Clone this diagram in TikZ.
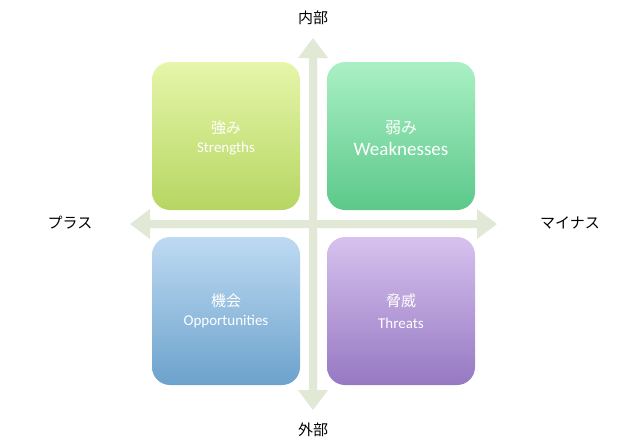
\documentclass[tikz,border=0pt]{standalone}
\usepackage{fontspec}
\setmainfont{Carlito}
\newfontfamily\cjk{Noto Sans CJK JP}
\begin{document}
\begin{tikzpicture}[x=1pt,y=-1pt]
\definecolor{arr}{HTML}{E2E8D6}
\tikzset{quad/.style={rounded corners=18pt,draw=none},
 wtxt/.style={text=white,align=center,font=\fontsize{15}{19}\selectfont},
 lbl/.style={text=black,font=\cjk\fontsize{15}{18}\selectfont}}
\useasboundingbox (0,0) rectangle (640,445);
% boxes
\shade[quad,top color={rgb,255:red,230;green,246;blue,170},bottom color={rgb,255:red,182;green,214;blue,98}] (152,62) rectangle (300,210);
\shade[quad,top color={rgb,255:red,170;green,240;blue,196},bottom color={rgb,255:red,92;green,200;blue,138}] (327,62) rectangle (475,210);
\shade[quad,top color={rgb,255:red,190;green,218;blue,242},bottom color={rgb,255:red,108;green,162;blue,204}] (152,237) rectangle (300,385);
\shade[quad,top color={rgb,255:red,214;green,194;blue,238},bottom color={rgb,255:red,150;green,120;blue,194}] (327,237) rectangle (475,385);
% arrows
\fill[arr] (313,38) -- (328,58) -- (317,58) -- (317,390) -- (328,390) -- (313,410) -- (298,390) -- (309,390) -- (309,58) -- (298,58) -- cycle;
\fill[arr] (130,224) -- (150,209) -- (150,220) -- (477,220) -- (477,209) -- (497,224) -- (477,239) -- (477,228) -- (150,228) -- (150,239) -- cycle;
% texts
\node[wtxt] (s) at (226,138) {{\cjk 強み}\\Strengths};
\node[wtxt,font=\fontsize{19}{22}\selectfont] (w) at (401,138) {{\cjk\fontsize{16}{19}\selectfont 弱み}\\Weaknesses};
\node[wtxt] (o) at (226,311) {{\cjk 機会}\\Opportunities};
\node[wtxt] (t) at (401,311) {{\cjk 脅威}\\[3pt]Threats};
\node[lbl] (n) at (313,18) {内部};
\node[lbl] (g) at (313,430) {外部};
\node[lbl] (p) at (70,223) {プラス};
\node[lbl] (m) at (570,223) {マイナス};
\end{tikzpicture}
\end{document}
